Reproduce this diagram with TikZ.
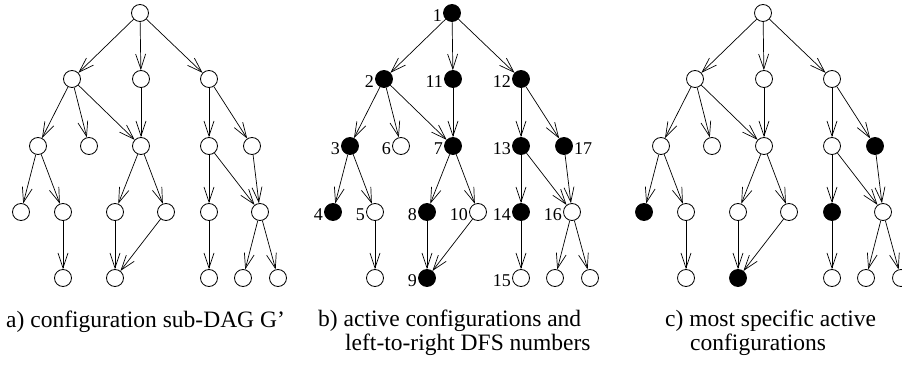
\documentclass[tikz,border=0pt]{standalone}
\usepackage{fontspec}
\setmainfont{Liberation Serif}
\usetikzlibrary{arrows.meta}

\tikzset{
  cfg/.style={circle,draw,line width=0.8pt,minimum size=17pt,inner sep=0pt},
  act/.style={fill=black},
  num/.style={font=\fontsize{18}{18}\selectfont,inner sep=1pt,yshift=-2.5pt},
  arc/.style={-{Straight Barb[length=15pt,width=10pt]},line width=0.7pt},
  captxt/.style={font=\fontsize{23.5}{24}\selectfont,inner sep=0pt,anchor=base west},
  % active configurations with DFS numbers
  b-1/.style={act,label={[num]left:1}},
  b-2/.style={act,label={[num]left:2}},
  b-3/.style={act,label={[num]left:3}},
  b-4/.style={act,label={[num]left:4}},
  b-5/.style={label={[num]left:5}},
  b-6/.style={label={[num]left:6}},
  b-7/.style={act,label={[num]left:7}},
  b-8/.style={act,label={[num]left:8}},
  b-9/.style={act,label={[num]left:9}},
  b-10/.style={label={[num]left:10}},
  b-11/.style={act,label={[num]left:11}},
  b-12/.style={act,label={[num]left:12}},
  b-13/.style={act,label={[num]left:13}},
  b-14/.style={act,label={[num]left:14}},
  b-15/.style={label={[num]left:15}},
  b-16/.style={label={[num]left:16}},
  b-17/.style={act,label={[num]right:17}},
  % most specific ones
  c-4/.style={act}, c-9/.style={act}, c-14/.style={act}, c-17/.style={act},
}

\begin{document}
\begin{tikzpicture}[x=1pt,y=-1pt]
\useasboundingbox (0,0) rectangle (902,366);

\foreach \p/\dx in {a/0,b/312,c/623} {
  \node[cfg,\p-1/.try]  (\p-1)  at (\dx+140,13)  {};
  \node[cfg,\p-2/.try]  (\p-2)  at (\dx+72,79)   {};
  \node[cfg,\p-11/.try] (\p-11) at (\dx+141,79)  {};
  \node[cfg,\p-12/.try] (\p-12) at (\dx+209,79)  {};
  \node[cfg,\p-3/.try]  (\p-3)  at (\dx+38,146)  {};
  \node[cfg,\p-6/.try]  (\p-6)  at (\dx+89,146)  {};
  \node[cfg,\p-7/.try]  (\p-7)  at (\dx+141,146) {};
  \node[cfg,\p-13/.try] (\p-13) at (\dx+209,146) {};
  \node[cfg,\p-17/.try] (\p-17) at (\dx+252,146) {};
  \node[cfg,\p-4/.try]  (\p-4)  at (\dx+21,212)  {};
  \node[cfg,\p-5/.try]  (\p-5)  at (\dx+63,212)  {};
  \node[cfg,\p-8/.try]  (\p-8)  at (\dx+115,212) {};
  \node[cfg,\p-10/.try] (\p-10) at (\dx+166,212) {};
  \node[cfg,\p-14/.try] (\p-14) at (\dx+209,212) {};
  \node[cfg,\p-16/.try] (\p-16) at (\dx+260,212) {};
  \node[cfg]            (\p-5a) at (\dx+63,278)  {};
  \node[cfg,\p-9/.try]  (\p-9)  at (\dx+115,278) {};
  \node[cfg,\p-15/.try] (\p-15) at (\dx+209,278) {};
  \node[cfg]            (\p-16a) at (\dx+243,278) {};
  \node[cfg]            (\p-16b) at (\dx+278,278) {};

  \path[arc]
    (\p-1) edge (\p-2)
    (\p-1) edge (\p-11)
    (\p-1) edge (\p-12)
    (\p-2) edge (\p-3)
    (\p-2) edge (\p-6)
    (\p-2) edge (\p-7)
    (\p-11) edge (\p-7)
    (\p-12) edge (\p-13)
    (\p-12) edge (\p-17)
    (\p-3) edge (\p-4)
    (\p-3) edge (\p-5)
    (\p-7) edge (\p-8)
    (\p-7) edge (\p-10)
    (\p-13) edge (\p-14)
    (\p-13) edge (\p-16)
    (\p-17) edge (\p-16)
    (\p-5) edge (\p-5a)
    (\p-8) edge (\p-9)
    (\p-10) edge (\p-9)
    (\p-14) edge (\p-15)
    (\p-16) edge (\p-16a)
    (\p-16) edge (\p-16b);
}

\node[captxt] (capa)  at (6,327)   {a) configuration sub-DAG G'};
\node[captxt] (capb)  at (318,326) {b) active configurations and};
\node[captxt] (capb2) at (345,350) {left-to-right DFS numbers};
\node[captxt] (capc)  at (665,326) {c) most specific active};
\node[captxt] (capc2) at (690,350) {configurations};
\end{tikzpicture}
\end{document}
